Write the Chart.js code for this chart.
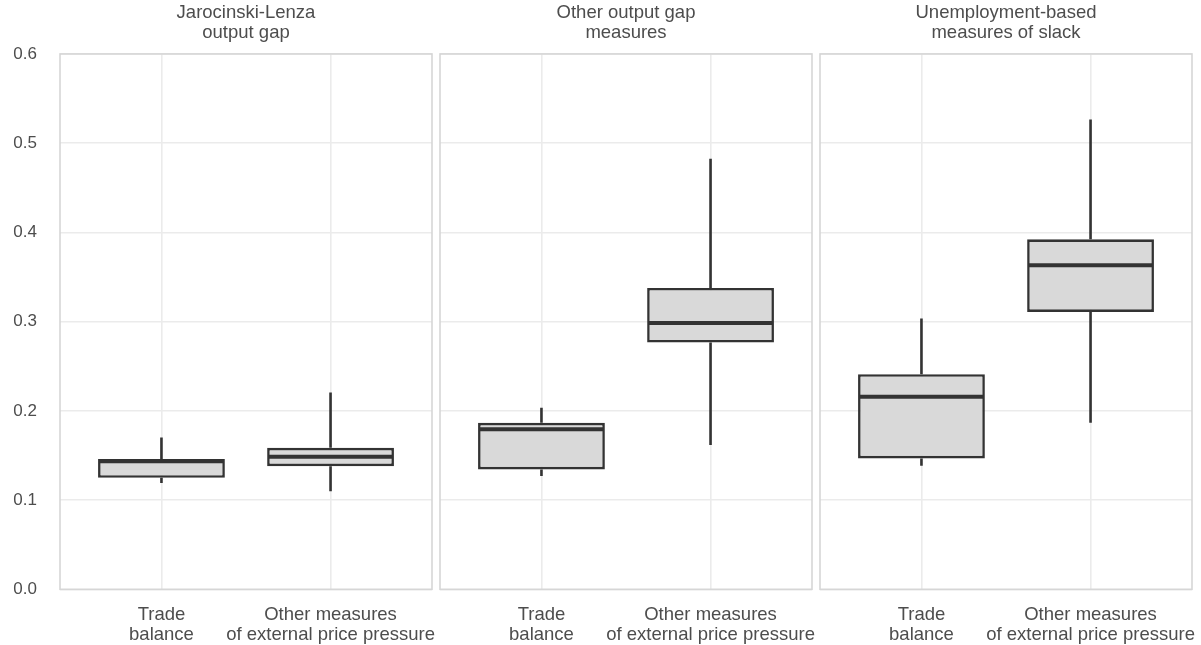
<!DOCTYPE html>
<html>
<head>
<meta charset="utf-8">
<script src="https://cdn.jsdelivr.net/npm/chart.js@4/dist/chart.umd.min.js"></script>
<style>
  html, body { margin: 0; padding: 0; background: #ffffff; }
  #wrap { position: relative; width: 1201px; height: 645px; }
  #wrap canvas { position: absolute; left: 0; top: 0; }
</style>
</head>
<body>
<div id="wrap">
  <canvas id="panel0" width="1201" height="645"></canvas>
  <canvas id="panel1" width="1201" height="645"></canvas>
  <canvas id="panel2" width="1201" height="645"></canvas>
</div>
<script>
// Categories on the x axis of every panel (two-line labels)
const categoryLabels = [
  ['Trade', 'balance'],
  ['Other measures', 'of external price pressure']
];

// Facet titles
const panelTitles = [
  ['Jarocinski-Lenza', 'output gap'],
  ['Other output gap', 'measures'],
  ['Unemployment-based', 'measures of slack']
];

// y axis ticks
const yTickValues = [0, 0.1, 0.2, 0.3, 0.4, 0.5, 0.6];
const yTickLabels = ['0.0', '0.1', '0.2', '0.3', '0.4', '0.5', '0.6'];

// Box statistics, one entry per category: [Trade balance, Other measures]
// Jarocinski-Lenza output gap
const jlLow    = [0.119, 0.110];
const jlQ1     = [0.125, 0.138];
const jlMedian = [0.1435, 0.1485];
const jlQ3     = [0.146, 0.1586];
const jlHigh   = [0.170, 0.2206];

// Other output gap measures
const ogLow    = [0.127, 0.1616];
const ogQ1     = [0.1344, 0.2766];
const ogMedian = [0.1795, 0.2986];
const ogQ3     = [0.1866, 0.3377];
const ogHigh   = [0.2034, 0.4826];

// Unemployment-based measures of slack
const ubLow    = [0.1384, 0.1866];
const ubQ1     = [0.1467, 0.3109];
const ubMedian = [0.2157, 0.3632];
const ubQ3     = [0.2411, 0.3923];
const ubHigh   = [0.3035, 0.5266];

const panelStats = [
  { low: jlLow, q1: jlQ1, median: jlMedian, q3: jlQ3, high: jlHigh },
  { low: ogLow, q1: ogQ1, median: ogMedian, q3: ogQ3, high: ogHigh },
  { low: ubLow, q1: ubQ1, median: ubMedian, q3: ubQ3, high: ubHigh }
];

const FONT = "'Liberation Sans', Arial, sans-serif";
const TEXT = '#4d4d4d';
const INK = '#333333';
const GRID = '#ebebeb';
const FRAME = '#d6d6d6';

// Horizontal placement of each panel's plotting area
const panelLeft  = [60, 440, 820];
const panelRight = [432, 812, 1192];

// Whiskers, medians and the panel frame, all positioned through the chart scales
const boxWhiskers = {
  id: 'boxWhiskers',
  beforeDatasetsDraw(chart, args, opts) {
    const { ctx, chartArea, scales: { x, y } } = chart;
    const s = opts.stats;
    ctx.save();
    // panel frame
    ctx.strokeStyle = FRAME;
    ctx.lineWidth = 1.6;
    ctx.strokeRect(chartArea.left, chartArea.top, chartArea.right - chartArea.left, chartArea.bottom - chartArea.top);
    // whiskers
    ctx.strokeStyle = INK;
    ctx.lineWidth = 2.6;
    ctx.lineCap = 'butt';
    s.low.forEach((lo, i) => {
      const px = x.getPixelForValue(i);
      ctx.beginPath();
      ctx.moveTo(px, y.getPixelForValue(lo));
      ctx.lineTo(px, y.getPixelForValue(s.q1[i]));
      ctx.moveTo(px, y.getPixelForValue(s.q3[i]));
      ctx.lineTo(px, y.getPixelForValue(s.high[i]));
      ctx.stroke();
    });
    ctx.restore();
  },
  afterDatasetsDraw(chart, args, opts) {
    const { ctx, scales: { y } } = chart;
    const s = opts.stats;
    const meta = chart.getDatasetMeta(0);
    ctx.save();
    ctx.strokeStyle = INK;
    ctx.lineWidth = 4;
    ctx.lineCap = 'butt';
    meta.data.forEach((bar, i) => {
      const { x: cx, width } = bar.getProps(['x', 'width'], true);
      const py = y.getPixelForValue(s.median[i]);
      ctx.beginPath();
      ctx.moveTo(cx - width / 2 + 1, py);
      ctx.lineTo(cx + width / 2 - 1, py);
      ctx.stroke();
    });
    ctx.restore();
  }
};

function makePanel(idx) {
  const s = panelStats[idx];
  const showY = idx === 0;
  new Chart(document.getElementById('panel' + idx), {
    type: 'bar',
    data: {
      datasets: [{
        data: s.q1.map((v, i) => ({ x: i, y: [v, s.q3[i]] })),
        backgroundColor: '#d9d9d9',
        borderColor: INK,
        borderWidth: 2.6,
        borderSkipped: false,
        barPercentage: 0.75,
        categoryPercentage: 1
      }]
    },
    options: {
      responsive: false,
      animation: false,
      events: [],
      layout: {
        padding: { left: showY ? 0 : panelLeft[idx], right: 1201 - panelRight[idx], top: 3, bottom: 0 }
      },
      plugins: {
        legend: { display: false },
        tooltip: { enabled: false },
        title: {
          display: true,
          text: panelTitles[idx],
          fullSize: false,
          color: TEXT,
          font: { family: FONT, size: 18.5, weight: 'normal', lineHeight: 1.08 },
          padding: { top: 0, bottom: 11 }
        },
        boxWhiskers: { stats: s }
      },
      scales: {
        x: {
          type: 'linear',
          min: -0.6,
          max: 1.6,
          offset: false,
          afterBuildTicks: (scale) => { scale.ticks = categoryLabels.map((_, i) => ({ value: i })); },
          afterFit: (scale) => {
            scale.height = 55.7;
            scale.paddingLeft = 0;
            scale.paddingRight = 0;
          },
          ticks: {
            callback: (value, index) => categoryLabels[index],
            color: TEXT,
            font: { family: FONT, size: 18.5, lineHeight: 1.07 },
            padding: 16,
            maxRotation: 0,
            autoSkip: false
          },
          grid: { color: GRID, lineWidth: 1.6, drawTicks: false, offset: false },
          border: { display: false }
        },
        y: {
          min: 0,
          max: 0.6,
          afterBuildTicks: (scale) => { scale.ticks = yTickValues.map(v => ({ value: v })); },
          afterFit: (scale) => { scale.width = showY ? panelLeft[0] : 0; },
          ticks: {
            display: showY,
            callback: (value, index) => yTickLabels[index],
            color: TEXT,
            font: { family: FONT, size: 17 },
            padding: 23
          },
          grid: { color: GRID, lineWidth: 1.6, drawTicks: false },
          border: { display: false }
        }
      }
    },
    plugins: [boxWhiskers]
  });
}

[0, 1, 2].forEach(makePanel);
</script>
</body>
</html>
